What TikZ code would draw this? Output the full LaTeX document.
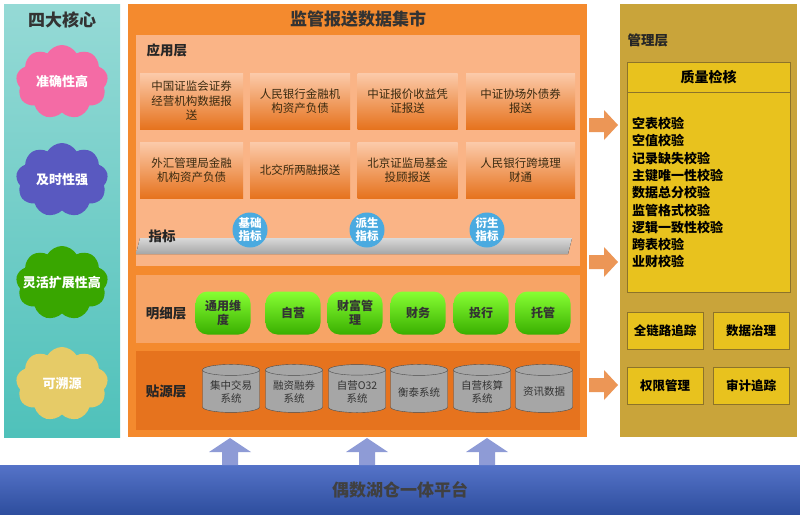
\documentclass[tikz,border=0pt]{standalone}
\usepackage{fontspec}
\setmainfont{Noto Sans CJK SC}
\usetikzlibrary{shapes.symbols,shapes.geometric}
\definecolor{teal1}{HTML}{4FC1BA}
\definecolor{org}{HTML}{F48A2E}
\definecolor{peach}{HTML}{FAB486}
\definecolor{peach2}{HTML}{F7A466}
\definecolor{dorg}{HTML}{E6731E}
\definecolor{khaki}{HTML}{C9A43A}
\definecolor{yel}{HTML}{E8C21E}
\definecolor{txt}{HTML}{3A2A10}
\definecolor{arrb}{HTML}{8E9BD6}
\definecolor{bl1}{HTML}{5573C8}
\definecolor{bl2}{HTML}{2E4E9E}
\definecolor{cir}{HTML}{4AAAE0}
\tikzset{
 appbox/.style={draw=none,top color=peach!70!white,bottom color=dorg,minimum width=100pt,minimum height=56pt,align=center,font=\fontsize{11.5}{14.5}\selectfont,text=txt},
 grn/.style={rounded corners=12pt,top color=green!45!lime!80!white,bottom color=green!55!black!70!lime,minimum width=55pt,minimum height=43pt,inner sep=1pt,align=center,font=\bfseries\fontsize{12}{14}\selectfont,text=black!80},
 cyl/.style={cylinder,shape border rotate=90,aspect=0.25,draw=black!70,fill=gray!70,minimum width=57pt,minimum height=48pt,inner sep=1pt,align=center,font=\fontsize{10.5}{13}\selectfont,text=black!80},
 cloudn/.style={cloud,cloud puffs=9,cloud puff arc=120,aspect=1.3,minimum width=92pt,minimum height=74pt,inner sep=0pt},
 cloudt/.style={font=\bfseries\fontsize{13}{15}\selectfont,text=white},
 circ/.style={circle,fill=cir,minimum size=35pt,inner sep=0pt,align=center,font=\bfseries\fontsize{11.5}{13}\selectfont,text=white},
 mbox/.style={fill=yel,draw=khaki!70!black,minimum width=76pt,minimum height=37pt,font=\bfseries\fontsize{12.5}{14}\selectfont,text=black},
 lbl/.style={font=\bfseries\fontsize{13.5}{15}\selectfont,text=black!85}
}
\begin{document}
\begin{tikzpicture}[x=1pt,y=-1pt]
\useasboundingbox (0,0) rectangle (800,514);
\fill[white] (0,0) rectangle (800,514);
% left
\fill[top color=teal1!60!white,bottom color=teal1] (4,4) rectangle (120,437);
\node[font=\bfseries\fontsize{17}{19}\selectfont,text=black!80] (t1) at (62,20) {四大核心};
\node[cloudn,fill=magenta!45!pink] (c1) at (62,82) {};
\node[cloudn,fill=blue!45!gray!90] (c2) at (62,180) {};
\node[cloudn,fill=green!50!black!70!lime] (c3) at (62,283) {};
\node[cloudn,fill=yellow!45!brown!75!white] (c4) at (62,384) {};
\node[cloudt] (c1t) at (c1) {准确性高};
\node[cloudt] (c2t) at (c2) {及时性强};
\node[cloudt] (c3t) at (c3) {灵活扩展性高};
\node[cloudt] (c4t) at (c4) {可溯源};
% center
\fill[org] (128,4) rectangle (587,437);
\node[font=\bfseries\fontsize{17}{19}\selectfont,text=black!80] (t2) at (358,19) {监管报送数据集市};
\fill[peach] (136,35) rectangle (580,266);
\node[lbl,anchor=west] (yy) at (143,50) {应用层};
\node[appbox,minimum width=103pt] (a1) at (191.5,101) {中国证监会证券\\经营机构数据报\\送};
\node[appbox] (a2) at (300,101) {人民银行金融机\\构资产负债};
\node[appbox] (a3) at (407.5,101) {中证报价收益凭\\证报送};
\node[appbox,minimum width=109pt] (a4) at (520.5,101) {中证协场外债券\\报送};
\node[appbox,minimum width=103pt] (b1) at (191.5,170) {外汇管理局金融\\机构资产负债};
\node[appbox] (b2) at (300,170) {北交所两融报送};
\node[appbox] (b3) at (407.5,170) {北京证监局基金\\投顾报送};
\node[appbox,minimum width=109pt] (b4) at (520.5,170) {人民银行跨境理\\财通};
\fill[top color=gray!30,bottom color=gray!70] (140,238) -- (572,238) -- (568,254) -- (136,254) -- cycle;
\node[lbl,anchor=west] (zb) at (145,236) {指标};
\node[circ] (z1) at (250,230) {基础\\指标};
\node[circ] (z2) at (367,230) {派生\\指标};
\node[circ] (z3) at (487,230) {衍生\\指标};
\fill[peach2] (136,275) rectangle (580,343);
\node[lbl] (mx) at (166,313) {明细层};
\foreach \n/\x/\t in {g1/223/通用维\\度,g2/293/自营,g3/355/财富管\\理,g4/418/财务,g5/481/投行,g6/543/托管}
 \node[grn] (\n) at (\x,313) {\t};
\fill[dorg] (136,351) rectangle (580,430);
\node[lbl] (ty) at (166,391) {贴源层};
\foreach \n/\x/\t in {d1/231/集中交易\\系统,d2/294/融资融券\\系统,d3/357/自营O32\\系统,d4/419/衡泰系统,d5/482/自营核算\\系统,d6/544/资讯数据}
 \node[cyl] (\n) at (\x,392) {\t};
% bottom
\fill[top color=bl1,bottom color=bl2] (0,465) rectangle (800,514);
\node[font=\bfseries\fontsize{17}{19}\selectfont,text=black!75] (pf) at (400,490) {偶数湖仓一体平台};
\foreach \x in {230,367,487}
 \fill[arrb] (\x-8,465) -- (\x-8,452) -- (\x-21,452) -- (\x,438) -- (\x+21,452) -- (\x+8,452) -- (\x+8,465) -- cycle;
% right
\fill[khaki] (620,4) rectangle (797,437);
\node[lbl,anchor=west] (gl) at (624,40) {管理层};
\fill[yel] (627,62) rectangle (790,292);
\draw[khaki!70!black] (627,62) rectangle (790,292);
\draw[khaki!70!black] (627,92) -- (790,92);
\node[font=\bfseries\fontsize{14}{16}\selectfont] (zl) at (708.5,77) {质量检核};
\node[anchor=north west,font=\bfseries\fontsize{13}{17.3}\selectfont,align=left,inner sep=0pt] (ql) at (632,117) {空表校验\\空值校验\\记录缺失校验\\主键唯一性校验\\数据总分校验\\监管格式校验\\逻辑一致性校验\\跨表校验\\业财校验};
\node[mbox] (m1) at (665,331) {全链路追踪};
\node[mbox] (m2) at (751,331) {数据治理};
\node[mbox] (m3) at (665,386) {权限管理};
\node[mbox] (m4) at (751,386) {审计追踪};
\foreach \y in {125,262,385}
 \fill[dorg!75!white] (589,\y-7) -- (604,\y-7) -- (604,\y-15) -- (618,\y) -- (604,\y+15) -- (604,\y+7) -- (589,\y+7) -- cycle;
\end{tikzpicture}
\end{document}
